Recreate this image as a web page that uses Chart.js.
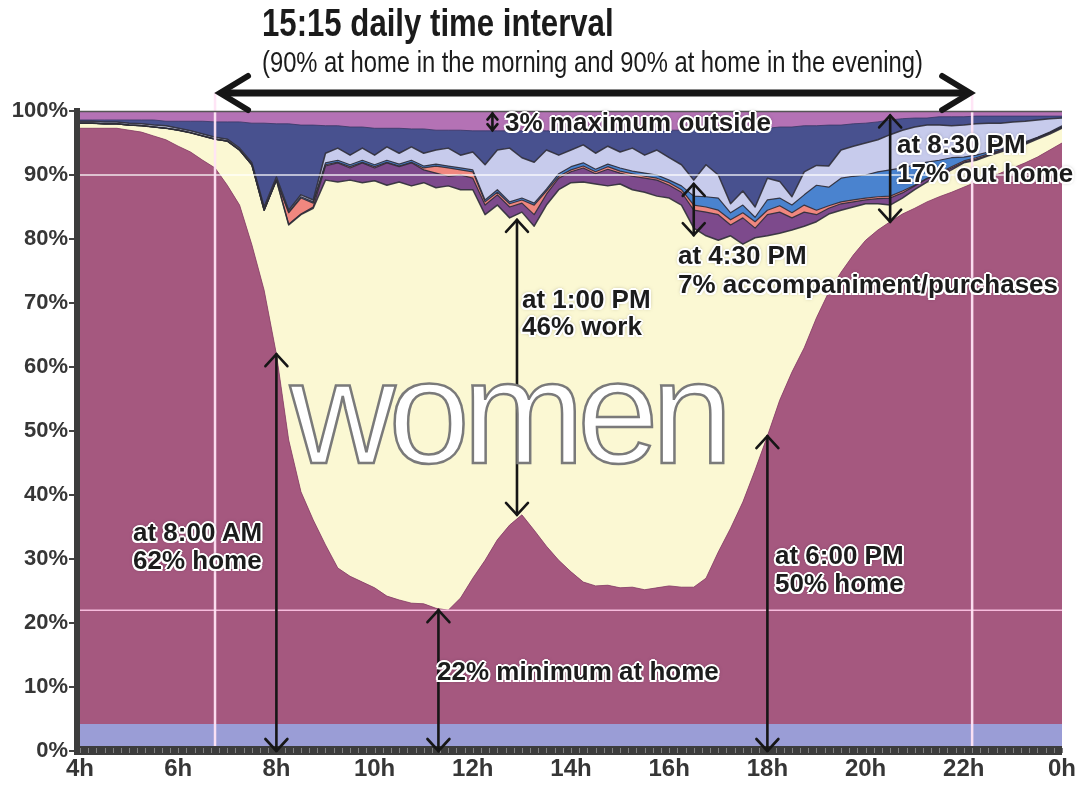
<!DOCTYPE html>
<html lang="en"><head><meta charset="utf-8"><title>women – daily time use</title>
<script src="https://cdn.jsdelivr.net/npm/chart.js@4.4.1/dist/chart.umd.min.js"></script>
<style>
html,body{margin:0;padding:0;background:#fff;overflow:hidden}
#wrap{position:relative;width:1080px;height:787px}
#c{position:absolute;left:0;top:0}
.t{position:absolute;white-space:nowrap;margin:0}
#title{left:262px;top:4px;font:bold 38px/38px "Liberation Sans Narrow","Liberation Sans",sans-serif;color:#1b1b1b;transform-origin:0 0}
#sub{left:262px;top:48px;font:29px/29px "Liberation Sans Narrow","Liberation Sans",sans-serif;color:#1b1b1b;transform-origin:0 0}
.lab{font:bold 26px/29px "Liberation Sans",Arial,sans-serif;color:#1c1c1c;
 text-shadow:-2px 0 #fff,2px 0 #fff,0 -2px #fff,0 2px #fff,-1.5px -1.5px #fff,1.5px 1.5px #fff,-1.5px 1.5px #fff,1.5px -1.5px #fff,0 0 4px rgba(0,0,0,.55)}
#women{left:290px;top:340px;font:146px/146px "Liberation Sans",Arial,sans-serif;color:#fff;-webkit-text-stroke:2.5px #7a7a7a;letter-spacing:-7px}
</style></head>
<body><div id="wrap">
<canvas id="c" width="1080" height="787"></canvas>
<div class="t" id="title">15:15 daily time interval</div>
<div class="t" id="sub">(90% at home in the morning and 90% at home in the evening)</div>
<div class="t" id="women">women</div>
<div class="t lab" style="left:505px;top:108px">3% maximum outside</div>
<div class="t lab" style="left:897px;top:130px">at 8:30 PM<br>17% out home</div>
<div class="t lab" style="left:678px;top:241px">at 4:30 PM<br>7% accompaniment/purchases</div>
<div class="t lab" style="left:522px;top:286px;line-height:27px">at 1:00 PM<br>46% work</div>
<div class="t lab" style="left:133px;top:518px;line-height:28px">at 8:00 AM<br>62% home</div>
<div class="t lab" style="left:775px;top:541px;line-height:28px">at 6:00 PM<br>50% home</div>
<div class="t lab" style="left:437px;top:657px">22% minimum at home</div>
</div>
<script>
// ---- data (share of women, cumulative %, 15-min steps from 4h to 0h) ----
const times = [4,4.25,4.5,4.75,5,5.25,5.5,5.75,6,6.25,6.5,6.75,7,7.25,7.5,7.75,8,8.25,8.5,8.75,9,9.25,9.5,9.75,10,10.25,10.5,10.75,11,11.25,11.5,11.75,12,12.25,12.5,12.75,13,13.25,13.5,13.75,14,14.25,14.5,14.75,15,15.25,15.5,15.75,16,16.25,16.5,16.75,17,17.25,17.5,17.75,18,18.25,18.5,18.75,19,19.25,19.5,19.75,20,20.25,20.5,20.75,21,21.25,21.5,21.75,22,22.25,22.5,22.75,23,23.25,23.5,23.75,24];
const baseBand = 4.2;
const homeTop = [97.3,97.3,97.3,97.3,97.0,96.7,96.1,95.5,94.5,93.6, 92.3,91.1,88.4,85.3,79.1,72.0,62.0,48.6,40.5,36.1, 32.2,28.6,27.3,26.4,25.5,24.2,23.6,23.1,23.0,22.3, 22.0,23.9,27.0,29.8,33.0,35.3,36.9,34.5,32.0,29.8, 28.0,26.4,25.8,25.9,25.5,25.6,25.2,25.5,25.8,25.6, 25.6,27.0,31.1,34.8,38.9,43.9,49.2,54.8,59.2,63.0, 67.7,71.7,74.8,77.5,79.8,81.4,82.7,83.9,84.8,85.8, 86.6,87.3,88.1,88.9,89.5,90.3,91.1,91.9,92.8,93.9, 95.0];
const workTop = [98.1,98.1,98.0,98.0,97.8,97.7,97.5,97.3,97.0,96.6, 96.1,95.6,95.3,93.9,91.6,84.5,89.2,82.2,83.8,84.8, 89.2,88.9,89.2,88.8,89.1,88.4,88.9,88.3,88.8,88.0, 88.3,87.7,87.7,83.8,85.3,83.3,84.2,82.0,85.3,87.7, 88.8,88.9,88.6,88.3,88.6,87.7,87.3,86.7,86.4,85.3, 81.7,80.5,79.8,80.5,79.2,80.2,80.5,80.9,81.4,82.0, 82.7,83.9,84.5,85.0,85.5,85.5,85.3,86.4,87.7,88.9, 89.8,90.8,91.9,92.3,93.0,93.6,94.2,94.8,95.6,96.4, 97.3];
const purpleTop = [98.1,98.1,98.0,98.0,97.8,97.7,97.5,97.3,97.0,96.6, 96.1,95.6,95.3,93.9,91.6,84.5,89.2,82.3,83.9,85.0, 91.4,91.9,91.1,91.9,91.1,91.9,91.3,91.9,90.8,90.3, 89.8,90.0,89.5,85.3,86.9,85.0,85.6,83.8,87.0,89.5, 90.5,91.1,90.2,90.9,90.3,89.8,89.5,89.2,88.4,87.3, 84.5,84.2,83.8,82.2,83.3,81.7,83.8,84.2,83.3,84.2, 83.8,84.8,85.5,85.8,86.1,86.3,86.4,87.2,88.3,89.4, 90.2,91.1,92.0,92.5,93.1,93.8,94.4,95.0,95.8,96.6, 97.5];
const pinkTop = [98.1,98.1,98.0,98.0,97.8,97.7,97.5,97.3,97.0,96.6, 96.1,95.6,95.3,93.9,91.6,84.5,89.2,84.1,86.4,85.6, 91.6,92.0,91.3,92.0,91.3,92.0,91.4,92.0,91.1,91.4, 91.1,90.8,90.5,85.8,87.3,85.5,86.1,85.3,87.5,89.8, 90.8,91.4,90.5,91.3,90.6,90.2,89.8,89.5,88.8,87.7, 85.3,85.0,84.5,83.0,84.1,82.7,84.5,85.2,84.1,85.3, 84.5,85.2,85.8,86.1,86.4,86.6,86.7,87.5,88.4,89.5, 90.3,91.3,92.2,92.7,93.3,93.9,94.4,95.0,95.8,96.6, 97.5];
const blueTop = [98.1,98.1,98.0,98.0,97.8,97.7,97.5,97.3,97.0,96.6, 96.1,95.6,95.3,93.9,91.6,84.5,89.2,84.2,86.6,85.8, 91.9,92.3,91.6,92.3,91.6,92.3,91.7,92.3,91.4,91.7, 91.4,91.1,90.8,86.1,87.7,85.8,86.4,85.6,87.8,90.2, 91.3,91.9,90.9,91.7,91.1,90.6,90.3,90.0,89.2,88.3, 86.7,86.6,86.4,84.1,85.3,83.4,86.1,86.4,85.3,86.9, 88.4,88.1,89.5,89.8,90.0,90.5,90.8,91.1,91.6,92.0, 92.3,92.7,92.8,93.1,93.6,94.1,94.5,95.2,95.9,96.7, 97.7];
const lavenderTop = [98.4,98.4,98.3,98.3,98.1,98.0,97.8,97.7,97.3,96.9, 96.4,95.9,95.6,94.2,91.9,85.0,89.7,84.5,86.9,86.1, 93.4,94.2,93.1,94.2,93.1,94.4,93.4,94.4,93.4,93.9, 94.2,93.1,93.6,91.6,93.9,94.2,92.7,92.0,93.9,93.1, 93.9,94.7,93.4,94.5,93.6,94.2,93.1,93.9,92.7,91.6, 89.2,91.6,90.0,85.5,87.5,85.0,89.5,89.0,86.6,90.5, 91.5,91.4,93.9,94.5,95.0,95.5,96.3,97.0,97.5,97.8, 97.8,97.7,97.8,98.0,98.1,98.1,98.3,98.4,98.6,98.8, 98.9];
const navyTop = [98.6,98.6,98.6,98.6,98.6,98.6,98.6,98.4,98.4,98.4, 98.4,98.3,98.3,98.3,98.1,98.1,98.0,98.0,97.8,97.8, 97.7,97.7,97.5,97.5,97.3,97.3,97.3,97.2,97.2,97.0, 97.0,97.0,96.9,96.9,96.9,96.9,96.9,96.9,96.9,96.9, 96.9,96.9,96.9,96.9,96.9,96.9,97.0,97.0,97.0,97.0, 97.2,97.2,97.2,97.2,97.3,97.3,97.3,97.5,97.5,97.7, 97.7,97.8,97.8,98.0,98.1,98.3,98.6,98.8,98.9,98.9, 99.1,99.1,99.1,99.2,99.2,99.2,99.2,99.2,99.2,99.2, 99.2];
const xTicks = [4,6,8,10,12,14,16,18,20,22,24];
const yTicks = [0,10,20,30,40,50,60,70,80,90,100];
// annotations: [time, from %, to %]
const arrows = [[8.0,0,62.0],[11.3,0,22.0],[12.9,83.0,36.9],[18.0,0,49.2],[16.5,88.6,80.6],[20.5,99.3,82.7],[12.4,99.6,97.0]];
const intervalStart = 6.75, intervalEnd = 22.17;
const refLinesY = [90, 22];

// ---- styles ----
const COL = {base:'#9a9dd6', home:'#a5587f', work:'#fbf8d3', purple:'#7d4a8c', pink:'#f0877f',
  blue:'#4a83cf', lavender:'#c7cbec', navy:'#48518f', outside:'#b472b5', edge:'rgba(45,45,55,0.9)'};

function hasFont(name){const c=document.createElement('canvas').getContext('2d');c.font='40px monospace';const a=c.measureText('abcdefgh 100%').width;c.font='40px "'+name+'", monospace';return c.measureText('abcdefgh 100%').width!==a;}
const narrowOK = hasFont('Liberation Sans Narrow');
const tickFam = narrowOK ? '"Liberation Sans Narrow"' : '"Liberation Sans"';
if(!narrowOK){ document.getElementById('title').style.transform='scaleX(0.82)'; document.getElementById('sub').style.transform='scaleX(0.82)'; }

const pts = arr => times.map((t,i)=>({x:t, y:arr[i]}));
const ds = (label, arr, color, border, bw, fill) => ({label, data:pts(arr), backgroundColor:color, borderColor:border, borderWidth:bw, fill, pointRadius:0, tension:0, borderJoinStyle:'round'});

const decor = {
  id:'decor',
  beforeDraw(chart){
    const {ctx, chartArea:a} = chart;
    ctx.save(); ctx.fillStyle = COL.outside; ctx.fillRect(a.left, a.top, a.right-a.left, a.bottom-a.top); ctx.restore();
  },
  afterDatasetsDraw(chart){
    const {ctx, chartArea:a, scales:{x, y}} = chart;
    ctx.save();
    const refCol = ['rgba(255,255,255,0.85)','rgba(255,200,232,0.9)'];
    refLinesY.forEach((v,k)=>{const py=y.getPixelForValue(v);ctx.strokeStyle=refCol[k];ctx.lineWidth=1.5;ctx.beginPath();ctx.moveTo(a.left,py);ctx.lineTo(a.right,py);ctx.stroke();});
    [intervalStart, intervalEnd].forEach(t=>{const px=x.getPixelForValue(t);ctx.strokeStyle='rgba(255,228,246,0.95)';ctx.lineWidth=2.5;ctx.beginPath();ctx.moveTo(px,93);ctx.lineTo(px,a.bottom);ctx.stroke();});
    ctx.strokeStyle='#555'; ctx.lineWidth=1.5; ctx.beginPath(); ctx.moveTo(a.left,a.top+0.5); ctx.lineTo(a.right,a.top+0.5); ctx.stroke();
    ctx.fillStyle='#3c3c3c';
    ctx.fillRect(a.left-6, a.top-3, 6, a.bottom-a.top+7);
    ctx.fillRect(a.left-6, a.bottom-5, a.right-a.left+6, 9);
    ctx.strokeStyle='#808080'; ctx.lineWidth=1;
    for(let t=4; t<=24.01; t+=1/6){const px=Math.round(x.getPixelForValue(t))+0.5; ctx.beginPath(); ctx.moveTo(px,a.bottom-3); ctx.lineTo(px,a.bottom+2); ctx.stroke();}
    ctx.strokeStyle='#444'; ctx.lineWidth=2;
    yTicks.forEach(v=>{const py=y.getPixelForValue(v);ctx.beginPath();ctx.moveTo(a.left-11,py);ctx.lineTo(a.left-6,py);ctx.stroke();});
    ctx.strokeStyle='#161616'; ctx.lineWidth=2.6; ctx.lineCap='round';
    arrows.forEach(([t,v1,v2])=>{
      const px=x.getPixelForValue(t), p1=y.getPixelForValue(v1), p2=y.getPixelForValue(v2);
      const top=Math.min(p1,p2), bot=Math.max(p1,p2);
      const small = (bot-top) < 30;
      const hl = small?6:12, hw = small?5:11;
      ctx.beginPath(); ctx.moveTo(px,top); ctx.lineTo(px,bot); ctx.stroke();
      ctx.beginPath(); ctx.moveTo(px-hw,top+hl); ctx.lineTo(px,top); ctx.lineTo(px+hw,top+hl); ctx.stroke();
      ctx.beginPath(); ctx.moveTo(px-hw,bot-hl); ctx.lineTo(px,bot); ctx.lineTo(px+hw,bot-hl); ctx.stroke();
    });
    const xa=x.getPixelForValue(intervalStart)+3, xb=x.getPixelForValue(intervalEnd), ya=93;
    ctx.lineWidth=7; ctx.lineCap='butt'; ctx.lineJoin='miter';
    ctx.beginPath(); ctx.moveTo(xa+4,ya); ctx.lineTo(xb-4,ya); ctx.stroke();
    ctx.lineWidth=6; ctx.lineCap='round';
    ctx.beginPath(); ctx.moveTo(xa+30,ya-17); ctx.lineTo(xa+2,ya); ctx.lineTo(xa+30,ya+17); ctx.stroke();
    ctx.beginPath(); ctx.moveTo(xb-30,ya-17); ctx.lineTo(xb-2,ya); ctx.lineTo(xb-30,ya+17); ctx.stroke();
    ctx.restore();
  }
};

new Chart(document.getElementById('c'), {
  type:'line',
  data:{datasets:[
    ds('base', times.map(()=>baseBand), COL.base, 'rgba(0,0,0,0)', 0, 'origin'),
    ds('home', homeTop, COL.home, 'rgba(135,65,100,0.8)', 1, '-1'),
    ds('work', workTop, COL.work, COL.edge, 1.5, '-1'),
    ds('purple', purpleTop, COL.purple, COL.edge, 1.2, '-1'),
    ds('pink', pinkTop, COL.pink, COL.edge, 1.2, '-1'),
    ds('blue', blueTop, COL.blue, COL.edge, 1.2, '-1'),
    ds('lavender', lavenderTop, COL.lavender, COL.edge, 1.5, '-1'),
    ds('navy', navyTop, COL.navy, 'rgba(55,55,100,0.8)', 1, '-1')
  ]},
  options:{
    responsive:false, animation:false, events:[],
    layout:{padding:{top:111,right:18,bottom:0,left:0}},
    plugins:{legend:{display:false}, tooltip:{enabled:false}, filler:{propagate:false, drawTime:'beforeDatasetsDraw'}},
    scales:{
      x:{type:'linear', min:4, max:24,
        grid:{display:false, drawTicks:false}, border:{display:false},
        afterFit(s){s.height=36;},
        afterBuildTicks(s){s.ticks = xTicks.map(v=>({value:v}));},
        ticks:{padding:4, color:'#363636', font:{family:tickFam, size:narrowOK?28:24, weight:'bold'}, callback:v=>(v%24)+'h', maxRotation:0, autoSkip:false}},
      y:{min:0, max:100,
        grid:{display:false, drawTicks:false}, border:{display:false},
        afterFit(s){s.width=80;},
        afterBuildTicks(s){s.ticks = yTicks.map(v=>({value:v}));},
        ticks:{padding:12, color:'#363636', font:{family:tickFam, size:narrowOK?26:22, weight:'bold'}, callback:v=>v+'%'}}
    }
  },
  plugins:[decor]
});
</script>
</body></html>
